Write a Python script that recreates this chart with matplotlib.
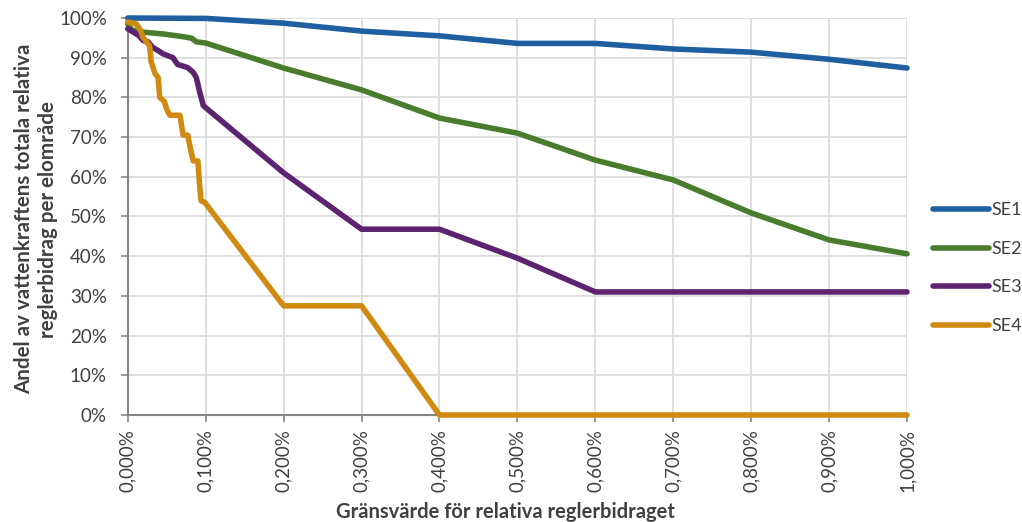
import matplotlib
matplotlib.use("Agg")
import matplotlib.pyplot as plt
from matplotlib.ticker import FuncFormatter, MultipleLocator

plt.rcParams['font.family'] = ['Lato', 'DejaVu Sans']

# x values in percent (threshold), y values in percent (share)
se1_x = [0.0, 0.1, 0.2, 0.3, 0.4, 0.5, 0.6, 0.7, 0.8, 0.9, 1.0]
se1_y = [100.0, 99.9, 98.7, 96.7, 95.5, 93.6, 93.6, 92.2, 91.4, 89.6, 87.4]

se2_x = [0.0, 0.005, 0.016, 0.045, 0.071, 0.082, 0.088, 0.1, 0.2, 0.3, 0.4, 0.5, 0.6, 0.7, 0.8, 0.9, 1.0]
se2_y = [98.5, 97.0, 96.5, 96.0, 95.3, 94.9, 94.0, 93.7, 87.4, 81.9, 74.8, 71.0, 64.2, 59.2, 50.9, 44.1, 40.6]

se3_x = [0.0, 0.014, 0.02, 0.026, 0.032, 0.039, 0.045, 0.058, 0.064, 0.069, 0.077, 0.084, 0.088, 0.092, 0.097,
         0.2, 0.3, 0.4, 0.5, 0.6, 0.7, 0.8, 0.9, 1.0]
se3_y = [97.3, 95.6, 94.3, 94.0, 92.6, 91.8, 91.0, 90.0, 88.3, 88.0, 87.5, 86.3, 85.0, 81.6, 77.9,
         61.0, 46.8, 46.8, 39.5, 31.0, 31.0, 31.0, 31.0, 31.0]

se4_x = [0.0, 0.011, 0.016, 0.02, 0.028, 0.03, 0.035, 0.039, 0.041, 0.047, 0.05, 0.054, 0.067, 0.069, 0.071,
         0.077, 0.08, 0.084, 0.09, 0.092, 0.094, 0.099, 0.2, 0.3, 0.4, 0.5, 0.6, 0.7, 0.8, 0.9, 1.0]
se4_y = [99.0, 98.5, 97.0, 95.0, 93.0, 89.0, 86.0, 85.0, 80.0, 79.0, 77.0, 75.5, 75.5, 73.0, 70.5,
         70.5, 67.5, 64.0, 64.0, 58.5, 54.0, 53.5, 27.5, 27.5, 0.0, 0.0, 0.0, 0.0, 0.0, 0.0, 0.0]

series = [("SE1", se1_x, se1_y, "#1f5fa0"),
          ("SE2", se2_x, se2_y, "#4a7c2e"),
          ("SE3", se3_x, se3_y, "#5b2370"),
          ("SE4", se4_x, se4_y, "#d08a12")]

fig = plt.figure(figsize=(10.22, 5.22), dpi=100)
ax = fig.add_axes([0.125, 0.205, 0.7625, 0.7605])

for name, xs, ys, c in series:
    ax.plot(xs, ys, color=c, lw=4.0, label=name, solid_joinstyle='round',
            solid_capstyle='round', clip_on=False, zorder=3)

ax.set_xlim(0, 1.0)
ax.set_ylim(0, 100)
ax.xaxis.set_major_locator(MultipleLocator(0.1))
ax.yaxis.set_major_locator(MultipleLocator(10))
ax.xaxis.set_major_formatter(FuncFormatter(lambda v, p: f"{v:.3f}%".replace('.', ',')))
ax.yaxis.set_major_formatter(FuncFormatter(lambda v, p: f"{v:.0f}%"))
ax.grid(True, color="#d9d9d9", lw=1.2)
ax.set_axisbelow(True)
for s in ['top', 'right']:
    ax.spines[s].set_visible(False)
for s in ['left', 'bottom']:
    ax.spines[s].set_color("#868686")
    ax.spines[s].set_linewidth(1.5)
    ax.spines[s].set_zorder(2)
ax.tick_params(axis='both', colors="#868686", length=5, width=1.2, labelcolor="#404040", labelsize=13.5)
ax.tick_params(axis='y', pad=10)
ax.tick_params(axis='x', labelrotation=90, pad=5)

fig.text(0.4946, 0.019, "Gränsvärde för relativa reglerbidraget", fontsize=14.5, fontweight='bold',
         color="#404040", ha='center', va='center')
fig.text(0.035, 0.58, "Andel av vattenkraftens totala relativa\nreglerbidrag per elområde", fontsize=14.8,
         fontweight='bold', color="#404040", rotation=90, ha='center', va='center',
         multialignment='center', linespacing=1.25)

leg = ax.legend(loc='center left', bbox_to_anchor=(1.012, 0.37), frameon=False, fontsize=13,
                handlelength=3.1, labelspacing=1.25, handletextpad=0.15)
for t in leg.get_texts():
    t.set_color("#404040")

fig.savefig("out.png", dpi=100)
